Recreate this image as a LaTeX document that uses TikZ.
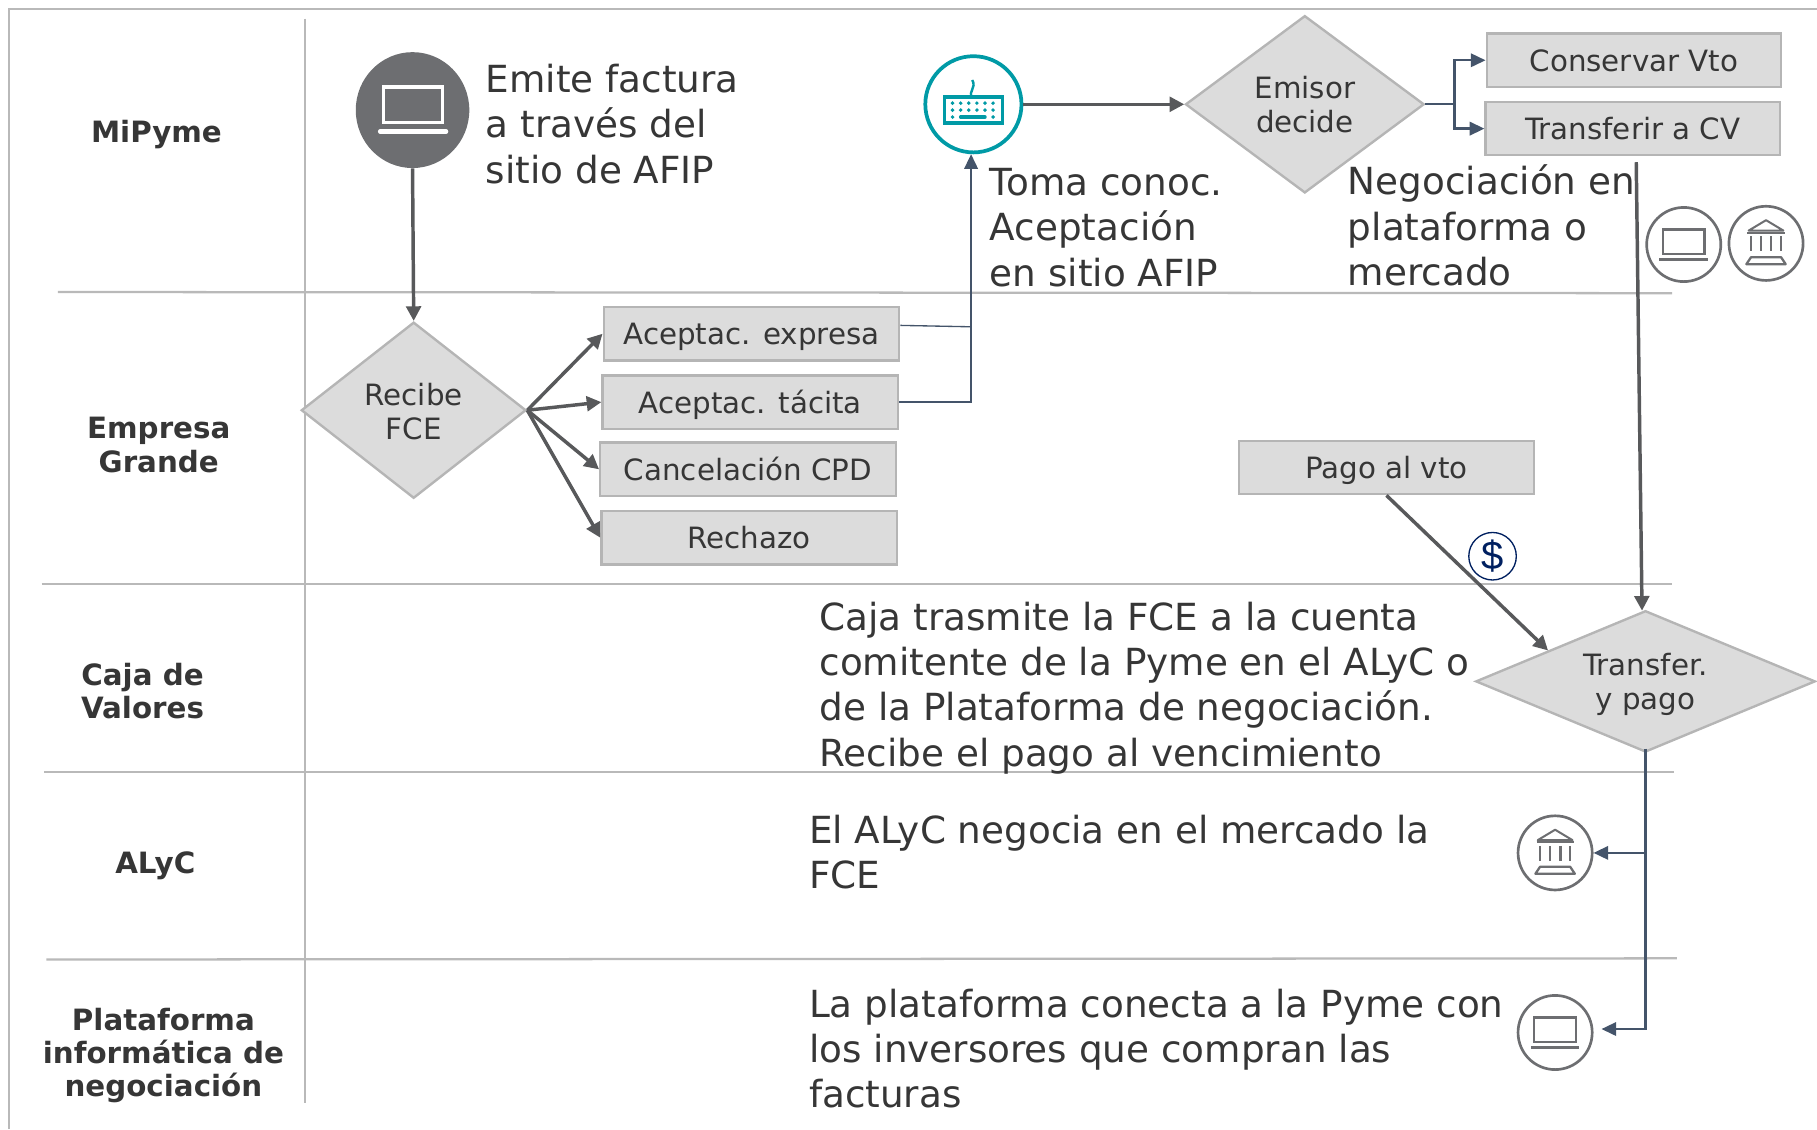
\documentclass[tikz,border=0pt]{standalone}
\usepackage{fontspec}
\setmainfont{DejaVu Sans}
\newfontfamily\thinfont{Liberation Sans}
\usetikzlibrary{shapes.geometric,arrows.meta,calc}
\def\u{0.8691pt}
\definecolor{gline}{HTML}{B9B9B9}
\definecolor{bfill}{HTML}{DCDCDC}
\definecolor{bdraw}{HTML}{B5B5B5}
\definecolor{arrg}{HTML}{58595B}
\definecolor{arrb}{HTML}{44546A}
\definecolor{icong}{HTML}{6D6E71}
\definecolor{teal}{HTML}{009AA6}
\definecolor{navyd}{HTML}{002060}
\definecolor{txt}{HTML}{363636}
\tikzset{
  sep/.style={draw=gline,line width=1.7pt},
  rowlab/.style={font=\bfseries\fontsize{22}{24.8}\selectfont,text=txt,align=center,inner sep=0pt},
  body/.style={font=\fontsize{28}{34}\selectfont,text=txt,align=left,inner sep=0pt,anchor=north west},
  flowbox/.style={draw=bdraw,fill=bfill,line width=1.8pt,rectangle,inner sep=0pt,text=txt,
    font=\fontsize{22}{25.2}\selectfont,minimum height=46*\u,text height=16.7pt,text depth=0pt},
  choice/.style={draw=bdraw,fill=bfill,line width=1.8pt,diamond,inner sep=0pt,text=txt,align=center,
    font=\fontsize{22}{25.2}\selectfont},
  garrow/.style={draw=arrg,line width=2.6pt,-{Triangle[length=11pt,width=11pt]}},
  barrow/.style={draw=arrb,line width=1.8pt,-{Triangle[length=11pt,width=10pt]}},
  bline/.style={draw=arrb,line width=1.8pt},
  ring/.style={circle,draw=icong,line width=2pt,minimum size=64*\u,inner sep=0pt},
  laptopicon/.pic={
    \draw[line width=1.8pt] (-18,-13) rectangle (18,8);
    \draw[line width=2pt] (-21,13) -- (21,13);
  },
  bankicon/.pic={
    \draw[line width=1.5pt,line join=round] (0,-20) -- (15,-11) -- (-15,-11) -- cycle;
    \draw[line width=1.5pt] (-16,-9) -- (16,-9);
    \foreach \c in {-13,-4.5,4.5,13}{\draw[line width=1.8pt] (\c,-6) -- (\c,7);}
    \draw[line width=1.7pt,line join=round] (-13,12) -- (13,12) -- (17,18) -- (-17,18) -- cycle;
  }
}
\begin{document}
\begin{tikzpicture}[x=\u,y=-\u]
\useasboundingbox (0,0) rectangle (1568,974.3);
% frame and lanes
\coordinate (f0) at (8,974.3);
\coordinate (f1) at (8,8);
\coordinate (f2) at (1568,8);
\draw[sep] (f0) -- (f1) -- (f2);
\coordinate (va) at (263,16); \coordinate (vb) at (263,952);
\draw[sep] (va) -- (vb);
\coordinate (l1a) at (50,252); \coordinate (l1b) at (1443,253);
\coordinate (l2a) at (36,504); \coordinate (l2b) at (1443,504);
\coordinate (l3a) at (38,666); \coordinate (l3b) at (1445,666);
\coordinate (l4a) at (40,828); \coordinate (l4b) at (1447,827);
\draw[sep] (l1a) -- (l1b);
\draw[sep] (l2a) -- (l2b);
\draw[sep] (l3a) -- (l3b);
\draw[sep] (l4a) -- (l4b);
% lane labels
\node[rowlab] (r1) at (135,116) {MiPyme};
\node[rowlab] (r2) at (137,384) {Empresa\\Grande};
\node[rowlab] (r3) at (123,596) {Caja de\\Valores};
\node[rowlab] (r4) at (134,747) {ALyC};
\node[rowlab] (r5) at (141,911) {Plataforma\\informática de\\negociación};
% icons
\node[ellipse,fill=icong,minimum width=98*\u,minimum height=100*\u,inner sep=0pt] (lap) at (356,95) {};
\draw[white,line width=2.4pt] (331,75) rectangle (382,106);
\draw[white,line width=3.2pt,line cap=round] (328,113.5) -- (385,113.5);
\node[circle,draw=teal,line width=2.8pt,minimum size=83*\u,inner sep=0pt] (kb) at (840,90) {};
\begin{scope}[shift={(840,90)},teal]
  \draw[line width=2.8pt] (-25,-6) rectangle (25,16);
  \draw[line width=1.8pt] (-1,-6) .. controls (-5,-11) and (3,-14) .. (-1,-21);
  \foreach \px in {-18,-11,-4,3,10,17}{
    \fill (\px,-1) circle (1.7);
    \fill (\px,5) circle (1.7);
  }
  \fill (-18,11) circle (1.7);
  \fill (17,11) circle (1.7);
  \draw[line width=2.6pt,line cap=round] (-11,11) -- (10,11);
\end{scope}
\node[ring] (i1) at (1453,211) {};
\pic[icong] at (i1) {laptopicon};
\node[ring] (i2) at (1524,210) {};
\pic[icong] at (i2) {bankicon};
\node[ring] (i3) at (1342,736) {};
\pic[icong] at (i3) {bankicon};
\node[ring] (i4) at (1342,891) {};
\pic[icong] at (i4) {laptopicon};
% decisions
\node[choice,minimum width=206*\u,minimum height=153*\u,shape aspect=1.346] (em) at (1126,90) {Emisor\\decide};
\node[choice,minimum width=194*\u,minimum height=152*\u,shape aspect=1.276] (rc) at (357,354) {\rule{0pt}{19pt}Recibe\\FCE};
\node[choice,minimum width=293*\u,minimum height=122*\u,shape aspect=2.4] (tr) at (1420,588) {\rule{0pt}{21.5pt}Transfer.\\y pago};
% boxes
\node[flowbox,minimum width=254*\u] (cv) at (1410,52) {Conservar Vto};
\node[flowbox,minimum width=254*\u] (tc) at (1409,111) {Transferir a CV};
\node[flowbox,minimum width=255*\u] (ae) at (648.5,288) {Aceptac. expresa};
\node[flowbox,minimum width=255*\u] (at) at (647.5,347) {Aceptac. tácita};
\node[flowbox,minimum width=255*\u] (cc) at (645.5,405) {Cancelación CPD};
\node[flowbox,minimum width=255*\u] (re) at (646.5,464) {Rechazo};
\node[flowbox,minimum width=255*\u] (pv) at (1196.5,403.5) {Pago al vto};
\node[circle,draw=navyd,line width=1pt,minimum size=41*\u,inner sep=0pt,text=navyd,font=\thinfont\fontsize{30}{32}\selectfont] (dl) at (1288,480) {\$};
% texts
\node[body] (t1) at (419,55) {Emite factura\\a través del\\sitio de AFIP};
\node[body] (t2) at (854,145) {Toma conoc.\\Aceptación\\en sitio AFIP};
\node[body] (t3) at (1163,142) {Negociación en\\plataforma o\\mercado};
\node[body] (t4) at (707,519) {Caja trasmite la FCE a la cuenta\\comitente de la Pyme en el ALyC o\\de la Plataforma de negociación.\\Recibe el pago al vencimiento};
\node[body] (t5) at (698,703) {El ALyC negocia en el mercado la\\FCE};
\node[body] (t6) at (698,853) {La plataforma conecta a la Pyme con\\los inversores que compran las\\facturas};
% connectors
\draw[garrow] (lap.south) -- (rc.north);
\draw[garrow] (kb.east) -- (em.west);
\draw[garrow] (rc.east) -- (ae.west);
\draw[garrow] (rc.east) -- (at.west);
\draw[garrow] (rc.east) -- (cc.west);
\draw[garrow] (rc.east) -- (re.west);
\coordinate (emj) at (1255,90);
\draw[bline] (em.east) -- (emj);
\draw[barrow] (emj) |- (cv.west);
\draw[barrow] (emj) |- (tc.west);
\coordinate (kbj) at (838,282);
\coordinate (kbin) at (838,133);
\coordinate (aex) at ($(ae.north east)!0.35!(ae.south east)$);
\draw[draw=arrb,line width=1pt] (aex) -- (kbj);
\draw[barrow] (at.east) -| (kbin);
\coordinate (tcs) at (1412,140);
\coordinate (trn) at (1417,527);
\draw[garrow] (tcs) -- (trn);
\coordinate (pvt) at ($(tr.west)!0.43!(tr.north)$);
\draw[garrow] (pv.south) -- (pvt);
\coordinate (trj) at (1420,736);
\coordinate (lapin) at (1382,888);
\draw[barrow] ($(tr.south)+(0,-4)$) |- (lapin);
\draw[barrow] (trj) -- (i3.east);
\end{tikzpicture}
\end{document}
